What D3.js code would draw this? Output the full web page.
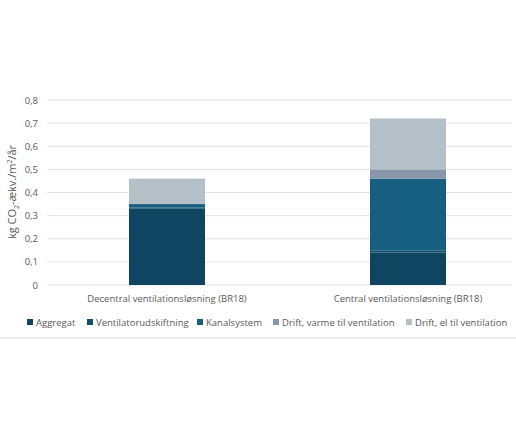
<!DOCTYPE html><html><head><meta charset="utf-8"><script src="https://cdn.jsdelivr.net/npm/d3@7"></script>
<style>body{margin:0;background:#fff}text{font-family:"Open Sans","Liberation Sans",sans-serif}</style></head><body>
<svg id="c" width="516" height="433"></svg>
<script>
const categories=["Decentral ventilationsløsning (BR18)","Central ventilationsløsning (BR18)"];
const seriesNames=["Aggregat","Ventilatorudskiftning","Kanalsystem","Drift, varme til ventilation","Drift, el til ventilation"];
const aggregat=[0.33,0.14];
const ventilator=[0.005,0.01];
const kanal=[0.015,0.31];
const varme=[0,0.04];
const el=[0.11,0.22];
const yTicks=[0,0.1,0.2,0.3,0.4,0.5,0.6,0.7,0.8];
const colors=["#0f4560","#124f6c","#175f80","#8597a8","#b5bfc8"];
const svg=d3.select("#c");
const x=d3.scalePoint().domain(categories).range([167,408]);
const bw=76;
const y=d3.scaleLinear().domain([0,0.8]).range([285,100]);
svg.append("g").selectAll("line").data(yTicks).join("line").attr("x1",47).attr("x2",512)
 .attr("y1",d=>y(d)).attr("y2",d=>y(d)).attr("stroke","#d9d9d9").attr("stroke-width",0.8);
svg.append("g").selectAll("text").data(yTicks).join("text").attr("x",38).attr("y",d=>y(d)+3.5)
 .attr("text-anchor","end").attr("font-size",9.5).attr("fill","#595959").text(d=>d===0?"0":d3.format(".1f")(d).replace(".",","));
const rows=categories.map((c,i)=>({cat:c,s0:aggregat[i],s1:ventilator[i],s2:kanal[i],s3:varme[i],s4:el[i]}));
const stack=d3.stack().keys(["s0","s1","s2","s3","s4"])(rows);
stack.forEach((layer,k)=>{svg.append("g").selectAll("rect").data(layer).join("rect")
 .attr("x",d=>x(d.data.cat)-bw/2).attr("width",bw).attr("y",d=>y(d[1])).attr("height",d=>y(d[0])-y(d[1]))
 .attr("fill",colors[k]);});
svg.append("g").selectAll("text").data(categories).join("text").attr("x",d=>x(d)).attr("y",302)
 .attr("text-anchor","middle").attr("font-size",9.5).attr("fill","#595959").text(d=>d);
const yl=svg.append("text").attr("transform","translate(16,192) rotate(-90)").attr("text-anchor","middle").attr("font-size",11).attr("fill","#595959");
yl.append("tspan").text("kg CO");yl.append("tspan").attr("font-size",7).attr("dy",3).text("2");
yl.append("tspan").attr("dy",-3).text("-ækv./m");yl.append("tspan").attr("font-size",7).attr("dy",-4).text("2");
yl.append("tspan").attr("dy",4).text("/år");
const lx=[27,87,197,273,406];
const lg=svg.append("g").selectAll("g").data(seriesNames).join("g").attr("transform",(d,i)=>`translate(${lx[i]},326)`);
lg.append("rect").attr("y",-7).attr("width",6).attr("height",6).attr("fill",(d,i)=>colors[i]);
lg.append("text").attr("x",9).attr("y",0).attr("font-size",9.5).attr("fill","#595959").text(d=>d);
svg.append("line").attr("x1",0).attr("x2",516).attr("y1",338).attr("y2",338).attr("stroke","#d9d9d9");
</script></body></html>
